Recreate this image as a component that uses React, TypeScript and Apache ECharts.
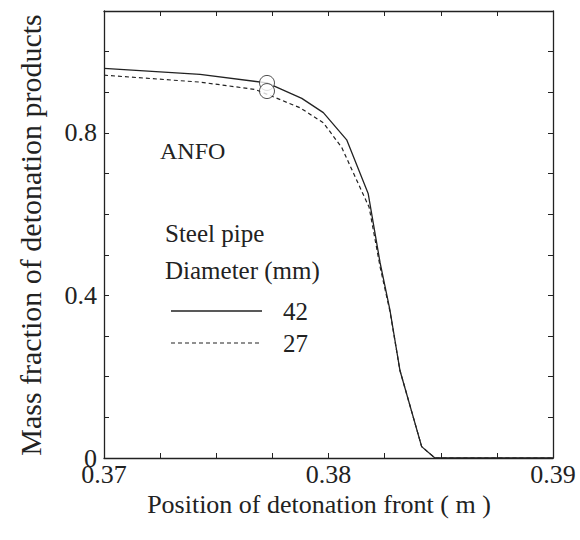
import React, { useEffect, useRef } from "react";
import * as echarts from "echarts";

const solidX = [0.37, 0.37428, 0.37726, 0.37881, 0.37977, 0.38081, 0.38177, 0.3823, 0.38274, 0.38318, 0.38415, 0.38474, 0.39];
const solidY = [0.959, 0.944, 0.923, 0.885, 0.85, 0.783, 0.65, 0.48, 0.363, 0.216, 0.028, 0, 0];
const dashedX = [0.37, 0.37428, 0.37673, 0.37873, 0.37977, 0.38059, 0.38181, 0.3823, 0.38274, 0.38318, 0.38415, 0.38474, 0.39];
const dashedY = [0.942, 0.925, 0.907, 0.862, 0.825, 0.764, 0.617, 0.47, 0.36, 0.216, 0.028, 0, 0];
const circleX = [0.37726, 0.37726];
const circleY = [0.923, 0.903];
const xTickLabels = ["0.37", "0.38", "0.39"];
const yTickLabels = ["0", "0.4", "0.8"];
const legendNames = ["42", "27"];

const FONT = "Liberation Serif";
const INK = "#222";

export default function App() {
  const ref = useRef<HTMLDivElement>(null);
  useEffect(() => {
    if (!ref.current) return;
    const chart = echarts.init(ref.current, null, { renderer: "svg" });
    const zip = (xs: number[], ys: number[]) => xs.map((x, i) => [x, ys[i]]);
    const fmtX = (v: number) => {
      const s = v.toFixed(2);
      return Math.abs(v - parseFloat(s)) < 1e-7 && xTickLabels.includes(s) ? s : "";
    };
    const fmtY = (v: number) => {
      const s = v === 0 ? "0" : v.toFixed(1);
      return Math.abs(v - parseFloat(s)) < 1e-7 && yTickLabels.includes(s) ? s : "";
    };
    const axisCommon = {
      axisLine: { show: true, onZero: false, lineStyle: { color: INK, width: 1.3 } },
      axisTick: { show: true, inside: true, length: 5, lineStyle: { color: INK, width: 1 } },
      splitLine: { show: false },
    };
    const txt = (text: string, x: number, y: number, size: number) => ({
      type: "text", x, y,
      style: { text, fontFamily: FONT, fontSize: size, fill: INK, textAlign: "left", textVerticalAlign: "middle" },
    });
    chart.setOption({
      animation: false,
      backgroundColor: "#fff",
      textStyle: { fontFamily: FONT },
      grid: { left: 104, right: 27, top: 11, bottom: 82 },
      xAxis: [
        {
          type: "value", min: 0.37, max: 0.39, interval: 0.0025, position: "bottom",
          ...axisCommon,
          axisLabel: { show: true, formatter: fmtX, margin: 3, color: INK, fontFamily: FONT, fontSize: 26, showMinLabel: true, showMaxLabel: true },
        },
        {
          type: "value", min: 0.37, max: 0.39, interval: 0.0025, position: "top",
          ...axisCommon, axisLabel: { show: false },
        },
      ],
      yAxis: [
        {
          type: "value", min: 0, max: 1.1, interval: 0.1, position: "left",
          ...axisCommon,
          axisLabel: { show: true, formatter: fmtY, margin: 7, color: INK, fontFamily: FONT, fontSize: 26 },
        },
        {
          type: "value", min: 0, max: 1.1, interval: 0.1, position: "right",
          ...axisCommon, axisLabel: { show: false },
        },
      ],
      series: [
        {
          name: legendNames[0], type: "line", data: zip(solidX, solidY), showSymbol: false, symbol: "none",
          lineStyle: { color: INK, width: 1.3, type: "solid" },
        },
        {
          name: legendNames[1], type: "line", data: zip(dashedX, dashedY), showSymbol: false, symbol: "none",
          lineStyle: { color: INK, width: 1.2, type: [4, 3] },
        },
        {
          type: "scatter", data: zip(circleX, circleY), symbol: "circle", symbolSize: 15,
          itemStyle: { color: "#fff", borderColor: INK, borderWidth: 1 }, z: 5,
        },
      ],
      graphic: [
        { type: "text", x: 30, y: 235, rotation: Math.PI / 2, style: { text: "Mass fraction of detonation products", fontFamily: FONT, fontSize: 30, fill: INK, textAlign: "center", textVerticalAlign: "middle" } },
        { type: "text", x: 319, y: 504, style: { text: "Position of detonation front ( m )", fontFamily: FONT, fontSize: 26, fill: INK, textAlign: "center", textVerticalAlign: "middle" } },
        txt("ANFO", 160, 151, 24),
        txt("Steel pipe", 165, 233, 25),
        txt("Diameter (mm)", 165, 270, 25),
        { type: "line", shape: { x1: 171, y1: 311, x2: 262, y2: 311 }, style: { stroke: INK, lineWidth: 1.3 } },
        txt(legendNames[0], 283, 311, 25),
        { type: "line", shape: { x1: 171, y1: 343, x2: 260, y2: 343 }, style: { stroke: INK, lineWidth: 1.2, lineDash: [4, 3] } },
        txt(legendNames[1], 283, 343, 25),
      ],
    });
    return () => chart.dispose();
  }, []);
  return <div ref={ref} style={{ position: "absolute", left: 0, top: 0, width: 580, height: 540 }} />;
}
